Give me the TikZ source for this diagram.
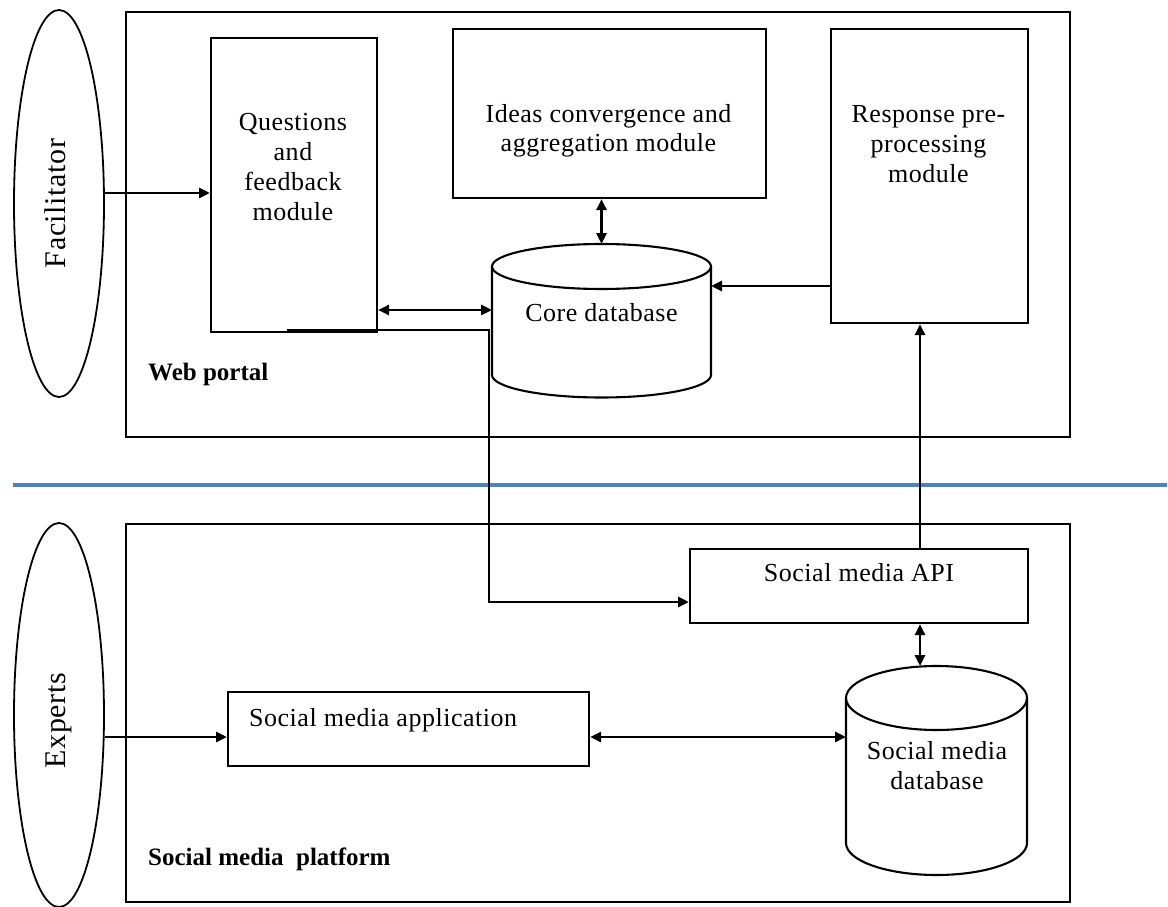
\documentclass[tikz,border=0pt]{standalone}
\usepackage{fontspec}
\setmainfont{Liberation Serif}
\newfontfamily\bodyfont[LetterSpace=2]{Liberation Serif}
\usetikzlibrary{arrows.meta,shapes.geometric,calc}
\definecolor{divider}{RGB}{79,129,189}

\begin{document}
\begin{tikzpicture}[x=1pt,y=-1pt,
  box/.style={draw, line width=2.1pt, inner sep=0pt, anchor=north west},
  actor/.style={draw, ellipse, line width=1.8pt, inner sep=0pt},
  hidden/.style={inner sep=0pt, outer sep=0pt},
  txt/.style={inner sep=0pt, align=center, font=\bodyfont\fontsize{26}{29.7}\selectfont},
  side/.style={inner sep=0pt, rotate=90, anchor=base, font=\bodyfont\fontsize{30}{34}\selectfont},
  tag/.style={inner sep=0pt, anchor=base west, font=\bfseries\fontsize{25}{30}\selectfont},
  tip/.tip={Triangle[length=11pt,width=10pt]},
  arr/.style={line width=2.8pt, -tip},
  biarr/.style={line width=2.8pt, tip-tip},
  cyl/.style={line width=2.1pt}
]
\useasboundingbox (0,0) rectangle (1168,907);
\fill[white] (0,0) rectangle (1168,907);

% actors
\node[actor, minimum width=90pt, minimum height=387pt] (fac) at (59,203.5) {};
\node[side] (factxt) at (65,203.5) {Facilitator};
\node[actor, minimum width=90pt, minimum height=384pt] (exp) at (59,715) {};
\node[side] (exptxt) at (65,720.5) {Experts};

% web portal (multi-line labels are placed by the baseline of their last line)
\node[box, minimum width=944pt, minimum height=425pt] (web) at (125,11) {};
\node[tag] (webtxt) at (148,380) {Web portal};
\node[box, minimum width=166pt, minimum height=294pt] (qf) at (210,37) {};
\node[txt, anchor=base] (qftxt) at (293,220) {Questions\\and\\feedback\\module};
\node[box, minimum width=313pt, minimum height=169pt] (ideas) at (452,28) {};
\node[txt, anchor=base] (ideastxt) at (608.5,151.7) {Ideas convergence and\\aggregation module};
\node[box, minimum width=197pt, minimum height=294pt] (resp) at (830,28) {};
\node[txt, anchor=base] (resptxt) at (928.5,182) {Response pre-\\processing\\module};

% core database cylinder
\node[hidden, minimum width=219pt, minimum height=153pt] (coredb) at (601.5,320.5) {};
\filldraw[cyl, fill=white] (492,266.5) -- (492,375)
  arc[start angle=180, end angle=360, x radius=109.5pt, y radius=22.5pt] -- (711,266.5);
\draw[cyl] (601.5,266.5) ellipse [x radius=109.5pt, y radius=22.5pt];
\node[txt, anchor=base] (coretxt) at (601.5,321.7) {Core database};

% divider
\draw[divider, line width=3.5pt] (13,485) -- (1167,485);

% social media platform
\node[box, minimum width=944pt, minimum height=378pt] (smp) at (125,523) {};
\node[tag] (smptxt) at (148,865) {Social media\ \ platform};
\node[box, minimum width=338pt, minimum height=74pt] (api) at (689,548) {};
\node[txt, anchor=base] (apitxt) at (859,581.7) {Social\ media\ API};
\node[box, minimum width=361pt, minimum height=74pt] (app) at (227,691) {};
\node[txt, anchor=base west] (apptxt) at (249,726.7) {Social\ media\ application};

% social media database cylinder
\node[hidden, minimum width=181pt, minimum height=209pt] (smdb) at (936.5,770.5) {};
\filldraw[cyl, fill=white] (846,698) -- (846,843)
  arc[start angle=180, end angle=360, x radius=90.5pt, y radius=32pt] -- (1027,698);
\draw[cyl] (936.5,698) ellipse [x radius=90.5pt, y radius=32pt];
\node[txt, anchor=base] (smdbtxt) at (937,789.5) {Social\ media\\database};

% connectors
\draw[arr] (fac.east |- 0,193) -- (qf.west |- 0,193);
\draw[arr] (exp.east |- 0,737) -- (app.west |- 0,737);
\draw[biarr] (qf.east |- 0,310) -- (coredb.west |- 0,310);
\draw[biarr] (coredb.north |- ideas.south) -- (coredb.north);
\draw[arr] (resp.west |- 0,286) -- (coredb.east |- 0,286);
\coordinate (qfout) at ($(qf.south west)!0.46!(qf.south east)$);
\coordinate (bendA) at (489,330);
\coordinate (bendB) at (489,602);
\draw[arr] (qfout |- bendA) -- (bendA) -- (bendB) -- (api.west |- bendB);
\draw[arr] (api.north -| 920,0) -- (resp.south -| 920,0);
\draw[biarr] (api.south -| 920,0) -- (smdb.north -| 920,0);
\draw[biarr] (app.east |- 0,737) -- (smdb.west |- 0,737);
\end{tikzpicture}
\end{document}
